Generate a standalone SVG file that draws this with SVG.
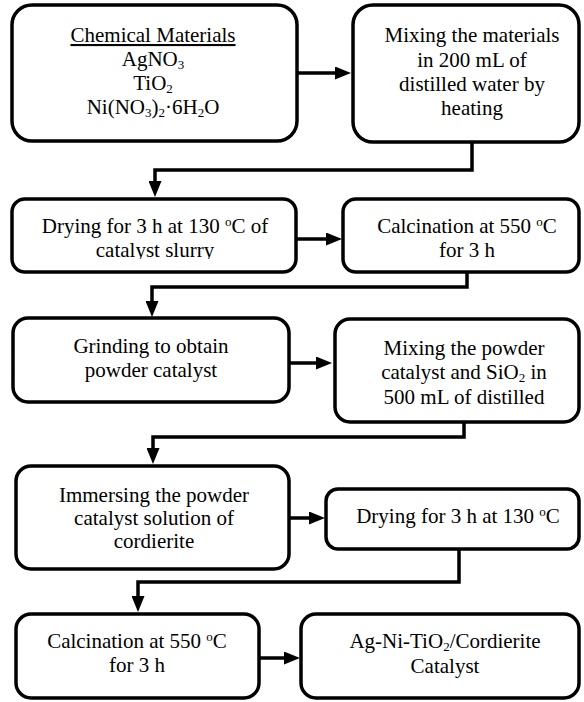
<svg xmlns="http://www.w3.org/2000/svg" width="584" height="702" viewBox="0 0 584 702">
<style>
.box{fill:#fff;stroke:#000;stroke-width:3.5}
.t{font-family:"Liberation Serif","Times New Roman",serif;font-size:21px;fill:#000;text-anchor:middle}
.sub{font-size:13px}
.deg{font-size:13px}
.conn{fill:none;stroke:#000;stroke-width:3.5;stroke-linejoin:miter}
</style>
<defs>
<marker id="ah" markerUnits="userSpaceOnUse" markerWidth="16" markerHeight="13" viewBox="0 0 16 13" refX="5" refY="6.5" orient="auto">
<path d="M0,0 L16,6.5 L0,13 z" fill="#000"/>
</marker>
<clipPath id="clip3"><rect x="12" y="199" width="284" height="60"/></clipPath>
</defs>
<rect width="584" height="702" fill="#fff"/>
<g id="connectors">
<path class="conn" d="M298,73 H340" marker-end="url(#ah)"/>
<path class="conn" d="M472,142 V170 H155 V186" marker-end="url(#ah)"/>
<path class="conn" d="M297,239 H331" marker-end="url(#ah)"/>
<path class="conn" d="M467,272 V287 H152 V306" marker-end="url(#ah)"/>
<path class="conn" d="M289,363 H321" marker-end="url(#ah)"/>
<path class="conn" d="M464,422 V437 H153 V453" marker-end="url(#ah)"/>
<path class="conn" d="M289,518 H314" marker-end="url(#ah)"/>
<path class="conn" d="M459,549 V582 H138 V601" marker-end="url(#ah)"/>
<path class="conn" d="M259,658 H289" marker-end="url(#ah)"/>
</g>
<g id="n1">
<rect class="box" x="12" y="5" width="285" height="136" rx="20"/>
<text class="t" x="153" y="42" text-decoration="underline">Chemical Materials</text>
<text class="t" x="153" y="66">AgNO<tspan class="sub" dy="3">3</tspan></text>
<text class="t" x="153" y="90">TiO<tspan class="sub" dy="3">2</tspan></text>
<text class="t" x="153" y="114">Ni(NO<tspan class="sub" dy="3">3</tspan><tspan dy="-3">)</tspan><tspan class="sub" dy="3">2</tspan><tspan dy="-3">·6H</tspan><tspan class="sub" dy="3">2</tspan><tspan dy="-3">O</tspan></text>
</g>
<g id="n2">
<rect class="box" x="353" y="5" width="226" height="137" rx="20"/>
<text class="t" x="472" y="42">Mixing the materials</text>
<text class="t" x="472" y="67">in 200 mL of</text>
<text class="t" x="472" y="91">distilled water by</text>
<text class="t" x="472" y="115">heating</text>
</g>
<g id="n3">
<rect class="box" x="12" y="199" width="284" height="73" rx="13"/>
<text class="t" x="155" y="233">Drying for 3 h at 130 <tspan class="deg" dy="-7">o</tspan><tspan dy="7">C of</tspan></text>
<text class="t" x="155" y="257" clip-path="url(#clip3)">catalyst slurry</text>
</g>
<g id="n4">
<rect class="box" x="343" y="199" width="236" height="73" rx="13"/>
<text class="t" x="467" y="233">Calcination at 550 <tspan class="deg" dy="-7">o</tspan><tspan dy="7">C</tspan></text>
<text class="t" x="467" y="257">for 3 h</text>
</g>
<g id="n5">
<rect class="box" x="13" y="318" width="276" height="84" rx="15"/>
<text class="t" x="151" y="353">Grinding to obtain</text>
<text class="t" x="151" y="377">powder catalyst</text>
</g>
<g id="n6">
<rect class="box" x="335" y="319" width="244" height="103" rx="15"/>
<text class="t" x="464" y="355">Mixing the powder</text>
<text class="t" x="464" y="379">catalyst and SiO<tspan class="sub" dy="3">2</tspan><tspan dy="-3"> in</tspan></text>
<text class="t" x="464" y="404">500 mL of distilled</text>
</g>
<g id="n7">
<rect class="box" x="16" y="466" width="273" height="103" rx="15"/>
<text class="t" x="154" y="502">Immersing the powder</text>
<text class="t" x="154" y="525">catalyst solution of</text>
<text class="t" x="154" y="548">cordierite</text>
</g>
<g id="n8">
<rect class="box" x="326" y="489" width="253" height="60" rx="12"/>
<text class="t" x="458" y="523">Drying for 3 h at 130 <tspan class="deg" dy="-7">o</tspan><tspan dy="7">C</tspan></text>
</g>
<g id="n9">
<rect class="box" x="16" y="614" width="243" height="84" rx="15"/>
<text class="t" x="137" y="648">Calcination at 550 <tspan class="deg" dy="-7">o</tspan><tspan dy="7">C</tspan></text>
<text class="t" x="137" y="672">for 3 h</text>
</g>
<g id="n10">
<rect class="box" x="301" y="614" width="278" height="84" rx="15"/>
<text class="t" x="445" y="648">Ag-Ni-TiO<tspan class="sub" dy="3">2</tspan><tspan dy="-3">/Cordierite</tspan></text>
<text class="t" x="445" y="673">Catalyst</text>
</g>
</svg>
